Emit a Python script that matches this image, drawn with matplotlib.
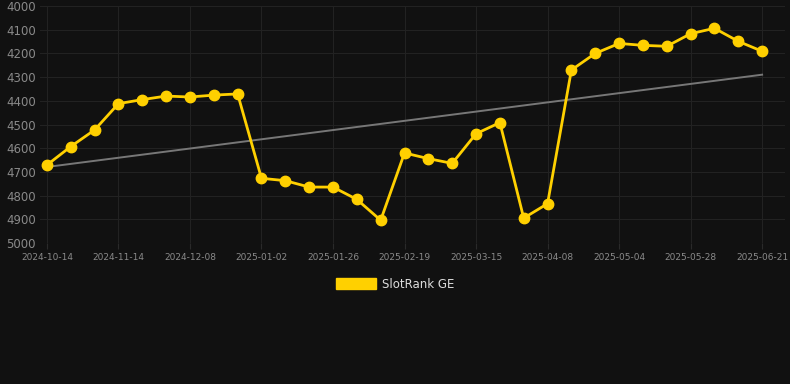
import numpy as np
import matplotlib.pyplot as plt
from matplotlib.patches import Patch

dates = ["2024-10-14", "2024-10-24", "2024-11-03", "2024-11-14", "2024-11-22",
         "2024-11-30", "2024-12-08", "2024-12-16", "2024-12-24", "2025-01-02",
         "2025-01-10", "2025-01-18", "2025-01-26", "2025-02-03", "2025-02-11",
         "2025-02-19", "2025-02-27", "2025-03-07", "2025-03-15", "2025-03-23",
         "2025-03-31", "2025-04-08", "2025-04-16", "2025-04-25", "2025-05-04",
         "2025-05-12", "2025-05-20", "2025-05-28", "2025-06-05", "2025-06-13",
         "2025-06-21"]
rank = [4671, 4593, 4523, 4412, 4395, 4380, 4384, 4376, 4371, 4727,
        4737, 4764, 4764, 4816, 4904, 4620, 4644, 4664, 4539, 4492,
        4895, 4834, 4270, 4200, 4158, 4166, 4170, 4117, 4094, 4149,
        4191]
series_name = "SlotRank GE"

bg = "#111111"
yellow = "#FFD000"

x = np.arange(len(dates))
slope, icpt = np.polyfit(x, rank, 1)
trend = slope * x + icpt

fig = plt.figure(figsize=(7.9, 3.84), dpi=100, facecolor=bg)
ax = fig.add_axes([40 / 790, 1 - 243 / 384, 745 / 790, 237 / 384])
ax.set_facecolor(bg)

ax.plot(x, trend, color="#777777", lw=1.4, zorder=2)
ax.plot(x, rank, color=yellow, lw=2, marker="o", ms=7.5, zorder=3)

ax.set_ylim(5000, 4000)
ax.set_yticks(range(4000, 5001, 100))
ax.set_xlim(-0.29, 30.96)
ax.set_xticks(x[::3])
ax.set_xticklabels(dates[::3])

ax.grid(True, color="#222222", lw=0.8)
ax.set_axisbelow(True)
for s in ax.spines.values():
    s.set_visible(False)
ax.tick_params(axis="y", length=0, pad=3, labelsize=8.5, labelcolor="#8a8a8a")
ax.tick_params(axis="x", length=4, color="#2a2a2a", pad=3, labelsize=6.5, labelcolor="#8a8a8a")

fig.legend(handles=[Patch(color=yellow, label=series_name)], loc="center",
           bbox_to_anchor=(0.5, 1 - 284 / 384), frameon=False,
           handlelength=3.4, handleheight=1.0, fontsize=8.5, labelcolor="#dddddd",
           handletextpad=0.5)

fig.savefig("out.png", dpi=100, facecolor=bg)
